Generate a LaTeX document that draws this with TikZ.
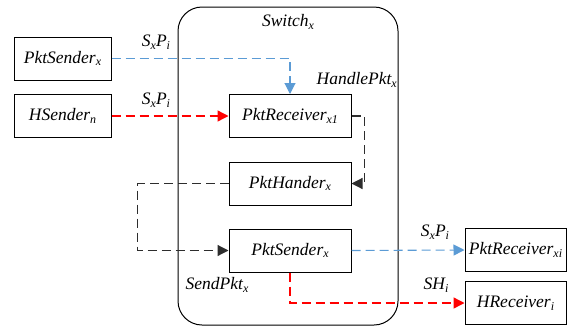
\documentclass[tikz,border=0pt]{standalone}
\usepackage{fontspec}
\setmainfont{Liberation Serif}
\usetikzlibrary{arrows.meta}
\definecolor{lblue}{RGB}{91,155,213}
\definecolor{dgray}{RGB}{45,45,45}
\newcommand{\sbx}[1]{\raisebox{-0.35ex}{\fontsize{12}{12}\selectfont #1}}
\begin{document}
\begin{tikzpicture}[x=1pt,y=-1pt,
  box/.style={draw,line width=1pt,minimum width=97pt,minimum height=43pt,inner sep=0pt,font=\fontsize{17.5}{20}\selectfont\itshape},
  ibox/.style={box,minimum width=122pt},
  lbl/.style={font=\fontsize{17.5}{20}\selectfont\itshape,inner sep=0pt},
  conn/.style={dashed,dash pattern=on 9pt off 5pt,-{Triangle[length=11pt,width=11pt]}},
  bl/.style={conn,lblue,line width=1.1pt},
  rd/.style={conn,red,line width=1.4pt},
  bk/.style={conn,dgray,line width=1.2pt}]
\useasboundingbox (0,0) rectangle (578,327);
\node[draw,line width=1pt,rounded corners=24pt,minimum width=220pt,minimum height=318pt,inner sep=0pt] (sw) at (288,166) {};
\node[box] (ps) at (62.5,58.5) {PktSender\sbx{x}};
\node[box] (hs) at (62.5,116) {HSender\sbx{n}};
\node[ibox] (pr) at (290,116) {PktReceiver\sbx{x1}};
\node[ibox] (ph) at (290,183.5) {PktHander\sbx{x}};
\node[ibox] (pst) at (290,250.5) {PktSender\sbx{x}};
\node[box,minimum width=101pt] (prx) at (515.5,250) {PktReceiver\sbx{xi}};
\node[box,minimum width=101pt] (hr) at (515.5,303) {HReceiver\sbx{i}};
\node[lbl] (t1) at (288,22) {Switch\sbx{x}};
\node[lbl,anchor=east] (t2) at (397,80) {HandlePkt\sbx{x}};
\node[lbl] (t3) at (217,285) {SendPkt\sbx{x}};
\node[lbl] (l1) at (156,42) {S\sbx{x}P\sbx{i}};
\node[lbl] (l2) at (156,100) {S\sbx{x}P\sbx{i}};
\node[lbl] (l3) at (435,232) {S\sbx{x}P\sbx{i}};
\node[lbl] (l4) at (436,285) {SH\sbx{i}};
\draw[bl] (ps.east) -| (pr.north);
\draw[rd] (hs.east) -- (pr.west);
\draw[bk] (pr.east) -- ++(13,0) |- (ph.east);
\draw[bk] (ph.west) -- ++(-91,0) |- (pst.west);
\draw[bl] (pst.east) -- (prx.west);
\draw[rd] (pst.south) |- (hr.west);
\end{tikzpicture}
\end{document}
